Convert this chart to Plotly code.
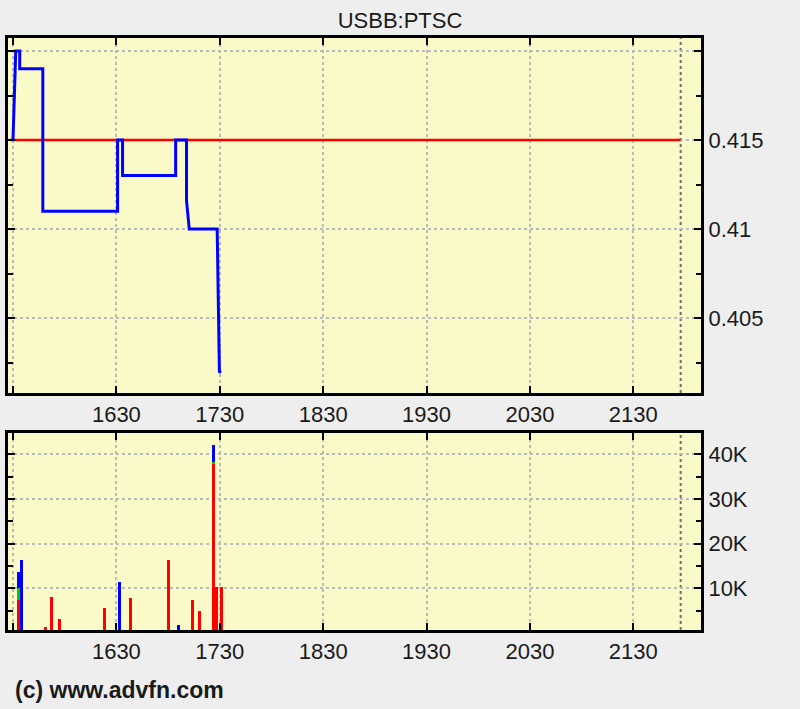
import plotly.graph_objects as go

# ---------------- data ----------------
# time axis in minutes since midnight (tick labels are HHMM)
tick_minutes = [930, 990, 1050, 1110, 1170, 1230, 1290]
tick_labels = ["", "1630", "1730", "1830", "1930", "2030", "2130"]

# price trades (time, price)
price_times = [930.0, 931.6, 933.9, 933.9, 947.3, 947.3, 990.7, 990.7, 993.6, 993.6,
               1024.4, 1024.4, 1030.7, 1030.7, 1032.3, 1048.5, 1049.8, 1050.8]
price_values = [0.415, 0.420, 0.420, 0.419, 0.419, 0.411, 0.411, 0.415, 0.415, 0.413,
                0.413, 0.415, 0.415, 0.4116, 0.410, 0.410, 0.4020, 0.40195]

prev_close = 0.415
session_start = 928.0
session_end = 1317.5

price_tickvals = [0.405, 0.41, 0.415, 0.42]
price_ticktext = ["0.405", "0.41", "0.415", ""]

# volume bars
vol_times = [933.4, 935.1, 948.8, 952.1, 957.0, 983.0, 992.0, 998.4, 1020.0,
             1026.3, 1034.0, 1038.5, 1046.1, 1047.9, 1051.2]
vol_down = [7300, 0, 1300, 8000, 3100, 5500, 0, 7800, 16300,
            0, 7300, 4900, 37900, 10300, 10300]
vol_unch = [2700, 0, 0, 0, 0, 0, 0, 0, 0,
            0, 0, 0, 400, 0, 0]
vol_up = [3600, 16300, 0, 0, 0, 0, 11400, 0, 0,
          1700, 0, 0, 3700, 0, 0]

vol_tickvals = [10000, 20000, 30000, 40000]
vol_ticktext = ["10K", "20K", "30K", "40K"]

# ---------------- figure ----------------
FONT = "Liberation Sans, Arial, sans-serif"
GRID = "#b9bcb6"
PLOT_BG = "#FAFAC8"
PAGE_BG = "#EEEEEE"

fig = go.Figure()

fig.add_trace(go.Scatter(
    x=[session_start, session_end], y=[prev_close, prev_close],
    mode="lines", line=dict(color="#FF0000", width=2.5),
    xaxis="x", yaxis="y", hoverinfo="skip", showlegend=False))

fig.add_trace(go.Scatter(
    x=price_times, y=price_values, mode="lines",
    line=dict(color="#0000FF", width=3),
    xaxis="x", yaxis="y", showlegend=False))

bar_w = 1.7
for vals, col in [(vol_down, "#FF0000"), (vol_unch, "#00CC00"), (vol_up, "#0000FF")]:
    fig.add_trace(go.Bar(
        x=vol_times, y=vals, width=bar_w, marker=dict(color=col, line=dict(width=0)),
        xaxis="x2", yaxis="y2", showlegend=False))

xrange = [927.1, 1329.3]
axis_common = dict(
    showline=True, linecolor="black", linewidth=3, mirror="ticks",
    ticks="inside", ticklen=7, tickwidth=2, tickcolor="black",
    showgrid=True, gridcolor=GRID, gridwidth=2, griddash="dot",
    zeroline=False, tickfont=dict(family=FONT, size=22, color="#1a1a1a"),
)

fig.update_layout(
    width=800, height=709,
    margin=dict(l=5, r=99, t=38, b=79, pad=0),
    paper_bgcolor=PAGE_BG, plot_bgcolor=PLOT_BG,
    barmode="stack", bargap=0,
    title=dict(text="USBB:PTSC", x=0.5, xref="container", xanchor="center",
               y=1 - 20 / 709, yref="container", yanchor="middle",
               font=dict(family=FONT, size=22, color="#1a1a1a")),
    xaxis=dict(domain=[0, 1], anchor="y", range=xrange,
               tickmode="array", tickvals=tick_minutes, ticktext=tick_labels,
               **axis_common),
    yaxis=dict(domain=[(630 - 393) / 592, 1], anchor="x", side="right",
               range=[0.40079, 0.42073],
               tickmode="array", tickvals=price_tickvals, ticktext=price_ticktext,
               minor=dict(tickmode="linear", tick0=0.4, dtick=0.0025, ticks="inside",
                          ticklen=5, tickwidth=2, tickcolor="black", showgrid=False),
               **axis_common),
    xaxis2=dict(domain=[0, 1], anchor="y2", range=xrange,
                tickmode="array", tickvals=tick_minutes, ticktext=tick_labels,
                **axis_common),
    yaxis2=dict(domain=[0, (630 - 433) / 592], anchor="x2", side="right",
                range=[650, 44760],
                tickmode="array", tickvals=vol_tickvals, ticktext=vol_ticktext,
                minor=dict(tickmode="linear", tick0=0, dtick=5000, ticks="inside",
                           ticklen=5, tickwidth=2, tickcolor="black", showgrid=False),
                **axis_common),
    annotations=[dict(text="(c) www.advfn.com", xref="paper", yref="paper",
                      x=(10 - 5) / 696, y=(630 - 690) / 592, xanchor="left", yanchor="middle",
                      showarrow=False,
                      font=dict(family=FONT, size=23, color="#1a1a1a", weight="bold"))],
    shapes=[
        dict(type="line", xref="x", yref="y domain", x0=session_end, x1=session_end,
             y0=0, y1=1, line=dict(color="#707070", width=2, dash="dot"), layer="below"),
        dict(type="line", xref="x2", yref="y2 domain", x0=session_end, x1=session_end,
             y0=0, y1=1, line=dict(color="#707070", width=2, dash="dot"), layer="below"),
    ],
)

fig.write_html("out.html", config={"displayModeBar": False},
               post_script="document.body.style.margin='0';")
